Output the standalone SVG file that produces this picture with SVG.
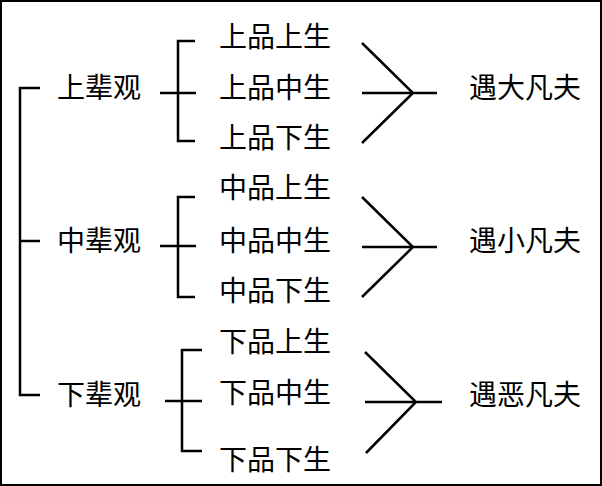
<svg xmlns="http://www.w3.org/2000/svg" width="602" height="486" viewBox="0 0 602 486">
<style>
text{font-family:"Noto Sans CJK SC","Liberation Serif",serif;font-size:28px;fill:#000;dominant-baseline:central}
line,path{stroke:#000;stroke-width:2.5;fill:none}
</style>
<rect x="1" y="1" width="600" height="484" fill="#fff" stroke="#000" stroke-width="2"/>
<g id="connectors">
<path d="M40 88H20V395H40M20 241H40"/>
<path d="M160 93H196M195 41H178V141H195"/>
<path d="M362 43L413 93L362 143M362 93H437"/>
<path d="M160 246H196M195 197H178V297H195"/>
<path d="M362 197L413 247L362 297M362 247H437"/>
<path d="M165 401H202M202 350H182V451H202"/>
<path d="M365 352L416 402L366 453M365 402H442"/>
</g>
<g transform="translate(0,-2)">
<g id="n-top"><text x="57" y="88">上辈观</text></g>
<g id="n-mid"><text x="57" y="241">中辈观</text></g>
<g id="n-bot"><text x="57" y="395">下辈观</text></g>
<g id="i1"><text x="219" y="37">上品上生</text></g>
<g id="i2"><text x="219" y="88">上品中生</text></g>
<g id="i3"><text x="219" y="138">上品下生</text></g>
<g id="i4"><text x="219" y="188">中品上生</text></g>
<g id="i5"><text x="219" y="241">中品中生</text></g>
<g id="i6"><text x="219" y="291">中品下生</text></g>
<g id="i7"><text x="219" y="342">下品上生</text></g>
<g id="i8"><text x="219" y="393">下品中生</text></g>
<g id="i9"><text x="219" y="460">下品下生</text></g>
<g id="r1"><text x="469" y="88">遇大凡夫</text></g>
<g id="r2"><text x="469" y="241">遇小凡夫</text></g>
<g id="r3"><text x="469" y="395">遇恶凡夫</text></g>
</g>
</svg>
